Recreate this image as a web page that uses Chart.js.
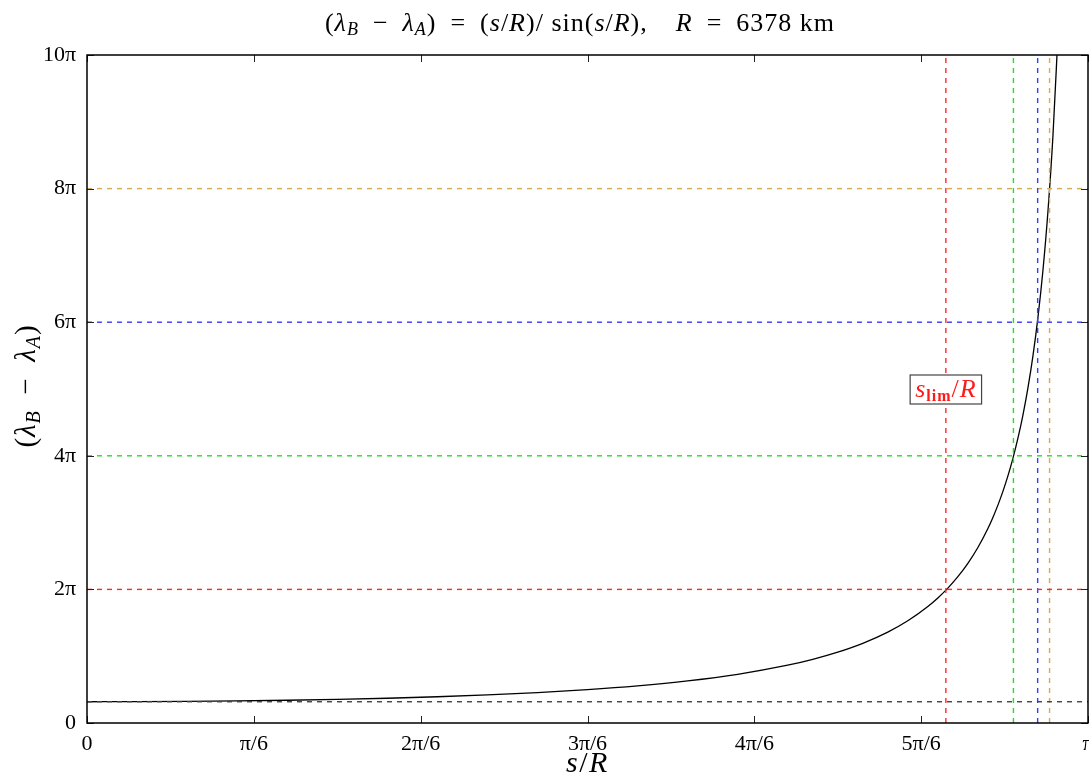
<!DOCTYPE html>
<html lang="en">

<head>
    <meta charset="UTF-8">
    <title>s/R vs longitude difference</title>
    <style>
        body {
            margin: 0;
            padding: 0;
            background-color: #ffffff;
        }

        #wrap {
            width: 1089px;
            height: 778px;
            position: relative;
        }
    </style>
</head>

<body>
    <div id="wrap"><canvas id="lonChart"></canvas></div>
    <script src="https://cdn.jsdelivr.net/npm/chart.js@4"></script>
    <script>
        // x in units of pi (s/R / pi), y in units of pi
        const curveX = [0, 0.05, 0.1, 0.15, 0.2, 0.25, 0.3, 0.35, 0.4, 0.45, 0.5, 0.55, 0.6, 0.65, 0.7, 0.725, 0.75, 0.775,
            0.8, 0.82, 0.84, 0.85, 0.86, 0.87, 0.88, 0.89, 0.9, 0.905, 0.91, 0.915, 0.92, 0.925, 0.93, 0.935, 0.94, 0.945,
            0.95, 0.955, 0.96, 0.965, 0.97];
        const curveY = [0.3183, 0.3196, 0.3236, 0.3304, 0.3403, 0.3536, 0.3708, 0.3928, 0.4206, 0.4556, 0.5, 0.5569, 0.6309,
            0.7295, 0.8652, 0.9534, 1.0607, 1.1933, 1.3610, 1.5303, 1.7436, 1.8723, 2.0198, 2.1906, 2.3905, 2.6274, 2.9124,
            3.0778, 3.2618, 3.4676, 3.6994, 3.9623, 4.2633, 4.6107, 5.0165, 5.4964, 6.0730, 6.778, 7.660, 8.794, 10.307];

        // horizontal reference levels and where the curve crosses them
        const levelY = [0.3183, 2, 4, 6, 8];
        const crossX = [null, 0.858, 0.9255, 0.9497, 0.9616];
        const levelColors = ["#444444", "#ff2a2a", "#1ee01e", "#3a3aff", "#d6ac4c"];

        const xTicks = [0, 1 / 6, 2 / 6, 3 / 6, 4 / 6, 5 / 6, 1];
        const xTickLabels = ["0", "π/6", "2π/6", "3π/6", "4π/6", "5π/6", "π"];
        const yTicks = [0, 2, 4, 6, 8, 10];
        const yTickLabels = ["0", "2π", "4π", "6π", "8π", "10π"];

        const serif = "'Liberation Serif', 'DejaVu Serif', serif";
        const EN = "\u2002";

        // build datasets
        const datasets = [];
        levelY.forEach((lv, i) => {
            datasets.push({
                data: [{ x: 0, y: lv }, { x: 1, y: lv }],
                borderColor: levelColors[i],
                borderWidth: 1.4,
                borderDash: [5, 5],
                showLine: true,
                pointRadius: 0
            });
            if (crossX[i] !== null) {
                datasets.push({
                    data: [{ x: crossX[i], y: 0 }, { x: crossX[i], y: 10 }],
                    borderColor: levelColors[i],
                    borderWidth: 1.4,
                    borderDash: [5, 5],
                    showLine: true,
                    pointRadius: 0
                });
            }
        });
        datasets.push({
            data: curveX.map((x, i) => ({ x: x, y: curveY[i] })),
            borderColor: "#000000",
            borderWidth: 1.3,
            showLine: true,
            cubicInterpolationMode: "monotone",
            pointRadius: 0
        });

        // draw a run of text pieces (italic / subscript) starting at x
        function drawRich(ctx, parts, x, y, align, color, spacing) {
            ctx.letterSpacing = (spacing || 0) + "px";
            let total = 0;
            parts.forEach(p => {
                ctx.font = (p.i ? "italic " : "") + (p.b ? "bold " : "") + p.s + "px " + serif;
                p.w = ctx.measureText(p.t).width;
                total += p.w;
            });
            let cx = align === "center" ? x - total / 2 : x;
            ctx.fillStyle = color || "#000";
            ctx.textAlign = "left";
            ctx.textBaseline = "alphabetic";
            parts.forEach(p => {
                ctx.font = (p.i ? "italic " : "") + (p.b ? "bold " : "") + p.s + "px " + serif;
                ctx.fillText(p.t, cx, y + (p.dy || 0));
                cx += p.w;
            });
            ctx.letterSpacing = "0px";
            return total;
        }

        const framePlugin = {
            id: "frame",
            afterDraw(chart) {
                const ctx = chart.ctx;
                const a = chart.chartArea;
                const xs = chart.scales.x, ys = chart.scales.y;
                ctx.save();

                // inward ticks
                ctx.strokeStyle = "#222";
                ctx.lineWidth = 1;
                ctx.beginPath();
                xTicks.forEach(v => {
                    const px = Math.round(xs.getPixelForValue(v)) + 0.5;
                    ctx.moveTo(px, a.bottom); ctx.lineTo(px, a.bottom - 7);
                    ctx.moveTo(px, a.top); ctx.lineTo(px, a.top + 7);
                });
                yTicks.forEach(v => {
                    const py = Math.round(ys.getPixelForValue(v)) + 0.5;
                    ctx.moveTo(a.left, py); ctx.lineTo(a.left + 7, py);
                    ctx.moveTo(a.right, py); ctx.lineTo(a.right - 7, py);
                });
                ctx.stroke();

                // frame
                ctx.strokeStyle = "#000";
                ctx.lineWidth = 1.5;
                ctx.strokeRect(a.left, a.top, a.right - a.left, a.bottom - a.top);

                // s_lim/R label box
                const bx = xs.getPixelForValue(crossX[1]);
                const by = ys.getPixelForValue(5);
                const lab = [
                    { t: "s", i: true, s: 26 },
                    { t: "lim", b: true, s: 16, dy: 4 },
                    { t: "/", s: 26 },
                    { t: "R", i: true, s: 26 }
                ];
                let w = 0;
                ctx.letterSpacing = "1px";
                lab.forEach(p => {
                    ctx.font = (p.i ? "italic " : "") + (p.b ? "bold " : "") + p.s + "px " + serif;
                    w += ctx.measureText(p.t).width;
                });
                ctx.letterSpacing = "0px";
                ctx.fillStyle = "#fff";
                ctx.fillRect(bx - w / 2 - 5, by - 14, w + 10, 29);
                ctx.strokeStyle = "#444";
                ctx.lineWidth = 1.2;
                ctx.strokeRect(bx - w / 2 - 5, by - 14, w + 10, 29);
                drawRich(ctx, lab, bx, by + 8, "center", "#ff1a1a", 1);

                // title
                const T = 26;
                drawRich(ctx, [
                    { t: "(", s: T }, { t: "λ", i: true, s: T }, { t: "B", i: true, s: 18, dy: 4 },
                    { t: EN + "−" + EN, s: T }, { t: "λ", i: true, s: T }, { t: "A", i: true, s: 18, dy: 4 },
                    { t: ")" + EN + "=" + EN + "(", s: T }, { t: "s", i: true, s: T }, { t: "/", s: T }, { t: "R", i: true, s: T },
                    { t: ")/ sin(", s: T }, { t: "s", i: true, s: T }, { t: "/", s: T }, { t: "R", i: true, s: T },
                    { t: ")," + EN + EN, s: T }, { t: "R", i: true, s: T }, { t: EN + "=" + EN + "6378 km", s: T }
                ], 580, 31, "center", "#000", 1);

                // x axis title
                drawRich(ctx, [
                    { t: "s", i: true, s: 30 }, { t: "/", s: 30 }, { t: "R", i: true, s: 30 }
                ], (a.left + a.right) / 2, 772, "center", "#000", 1.5);

                // y axis title (rotated)
                ctx.translate(35, 386);
                ctx.rotate(-Math.PI / 2);
                drawRich(ctx, [
                    { t: "(", s: 29 }, { t: "λ", i: true, s: 29 }, { t: "B", i: true, s: 20, dy: 5 },
                    { t: EN + "−" + EN, s: 29 }, { t: "λ", i: true, s: 29 }, { t: "A", i: true, s: 20, dy: 5 },
                    { t: ")", s: 29 }
                ], 0, 0, "center", "#000", 1);

                ctx.restore();
            }
        };

        const ctx = document.getElementById("lonChart").getContext("2d");
        new Chart(ctx, {
            type: "scatter",
            data: { datasets: datasets },
            options: {
                responsive: true,
                maintainAspectRatio: false,
                animation: false,
                layout: { padding: { top: 55, right: 1, left: 0, bottom: 0 } },
                plugins: {
                    legend: { display: false },
                    tooltip: { enabled: false }
                },
                scales: {
                    x: {
                        type: "linear",
                        min: 0,
                        max: 1,
                        grid: { display: false, drawTicks: false },
                        border: { display: false },
                        afterBuildTicks: s => { s.ticks = xTicks.map(v => ({ value: v })); },
                        afterFit: s => { s.height = 55; s.paddingLeft = 0; s.paddingRight = 0; },
                        ticks: {
                            autoSkip: false,
                            maxRotation: 0,
                            padding: 8,
                            color: "#000",
                            font: { family: serif, size: 22 },
                            callback: (v, i) => xTickLabels[i]
                        }
                    },
                    y: {
                        type: "linear",
                        min: 0,
                        max: 10,
                        grid: { display: false, drawTicks: false },
                        border: { display: false },
                        afterBuildTicks: s => { s.ticks = yTicks.map(v => ({ value: v })); },
                        afterFit: s => { s.width = 87; s.paddingTop = 0; s.paddingBottom = 0; },
                        ticks: {
                            autoSkip: false,
                            padding: 11,
                            color: "#000",
                            font: { family: serif, size: 22 },
                            callback: (v, i) => yTickLabels[i]
                        }
                    }
                }
            },
            plugins: [framePlugin]
        });
    </script>
</body>

</html>
